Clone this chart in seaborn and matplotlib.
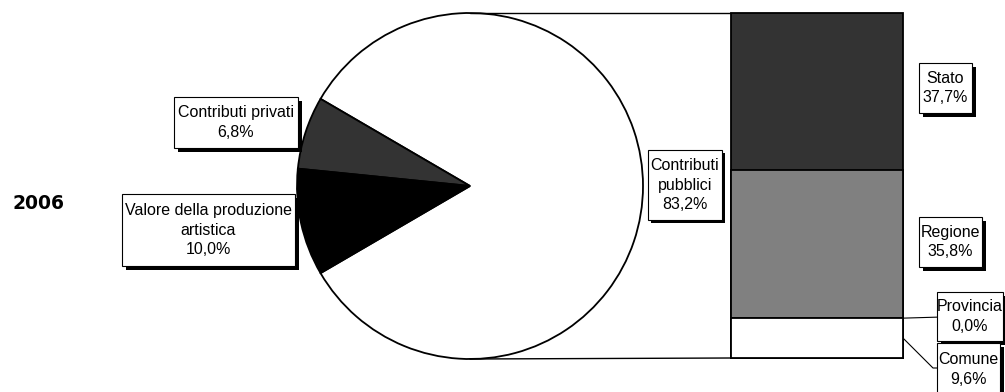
import matplotlib
matplotlib.use("Agg")
import matplotlib.pyplot as plt
from matplotlib.patches import Rectangle
import seaborn as sns
import numpy as np

# ---------------- data ----------------
year = "2006"
pie_labels = ["Contributi\npubblici", "Contributi privati", "Valore della produzione\nartistica"]
pie_values = [83.2, 6.8, 10.0]
pie_colors = ["#ffffff", "#333333", "#000000"]

bar_labels = ["Stato", "Regione", "Provincia", "Comune"]
bar_values = [37.7, 35.8, 0.0, 9.6]
bar_colors = ["#333333", "#808080", "#ffffff", "#ffffff"]

def pct(v):
    return f"{v:.1f}%".replace(".", ",")

# ---------------- figure ----------------
sns.set_theme(style="white")
plt.rcParams["font.family"] = ["Liberation Sans", "DejaVu Sans"]

W, H = 1005, 392
fig = plt.figure(figsize=(W / 100, H / 100), dpi=100)
fig.patch.set_facecolor("white")

ax = fig.add_axes([0, 0, 1, 1])
ax.set_xlim(0, W)
ax.set_ylim(0, H)
ax.axis("off")

def Y(y):  # pixel-from-top -> data
    return H - y

# pie
cx, cy, r = 470, 186, 173
ax.pie(pie_values, colors=pie_colors, startangle=-pie_values[0] / 100 * 180,
       center=(cx, Y(cy)), radius=r, counterclock=True,
       wedgeprops=dict(edgecolor="black", linewidth=1.3))
ax.set_xlim(0, W)
ax.set_ylim(0, H)
ax.set_aspect("auto")

# stacked bar (bar of pie)
bx0, bx1, by0, by1 = 731, 903, 13, 358
bax = fig.add_axes([bx0 / W, (H - by1) / H, (bx1 - bx0) / W, (by1 - by0) / H])
total = sum(bar_values)
# stacked from bottom: Comune, Provincia, Regione, Stato
order = list(range(len(bar_values)))[::-1]
cum = np.cumsum([bar_values[i] for i in order])
tops = {i: c for i, c in zip(order, cum)}
for i in range(len(bar_values)):  # draw tallest first (Stato top)
    sns.barplot(x=[0], y=[tops[i]], color=bar_colors[i], width=1, saturation=1,
                edgecolor="black", linewidth=1.3, ax=bax)
bax.set_xlim(-0.5, 0.5)
bax.set_ylim(0, total)
bax.axis("off")
for p in bax.patches:
    p.set_clip_on(False)

def bar_px(v):  # value in bar -> pixel y
    return by1 - v / total * (by1 - by0)

# connector lines pie -> bar
ax.plot([cx, bx0], [Y(cy - r), Y(by0)], color="black", lw=1)
ax.plot([cx, bx0], [Y(cy + r), Y(by1)], color="black", lw=1)

# labels with shadow boxes
FS = 11.5
def label_box(left, top, right, bottom, text, sh=4):
    ax.add_patch(Rectangle((left + sh, Y(bottom + sh)), right - left, bottom - top,
                           facecolor="black", edgecolor="none", zorder=5, clip_on=False))
    ax.add_patch(Rectangle((left, Y(bottom)), right - left, bottom - top,
                           facecolor="white", edgecolor="black", lw=0.8, zorder=6, clip_on=False))
    ax.text((left + right) / 2, Y((top + bottom) / 2), text, ha="center", va="center",
            fontsize=FS, color="black", zorder=7, linespacing=1.38)

label_box(174, 97, 298, 148, f"{pie_labels[1]}\n{pct(pie_values[1])}")
label_box(122, 194, 295, 266, f"{pie_labels[2]}\n{pct(pie_values[2])}")
label_box(648, 150, 722, 220, f"{pie_labels[0]}\n{pct(pie_values[0])}", sh=3)
label_box(919, 63, 972, 113, f"{bar_labels[0]}\n{pct(bar_values[0])}")
label_box(919, 217, 982, 267, f"{bar_labels[1]}\n{pct(bar_values[1])}")

# leader lines for small segments
y_prov = bar_px(tops[2])
y_com = bar_px(tops[3] - bar_values[3] / 2)
ax.plot([bx1, 937], [Y(y_prov), Y(y_prov - 1)], color="black", lw=0.8, zorder=4)
ax.plot([bx1, 933, 937], [Y(y_com), Y(368), Y(368)], color="black", lw=0.8, zorder=4)
label_box(937, 292, 1003, 341, f"{bar_labels[2]}\n{pct(bar_values[2])}")
label_box(937, 343, 1000, 396, f"{bar_labels[3]}\n{pct(bar_values[3])}")

# year
ax.text(12, Y(203.5), year, ha="left", va="center", fontsize=13.5,
        fontweight="bold", family="DejaVu Sans", color="black")

fig.savefig("out.png", dpi=100, facecolor="white")
